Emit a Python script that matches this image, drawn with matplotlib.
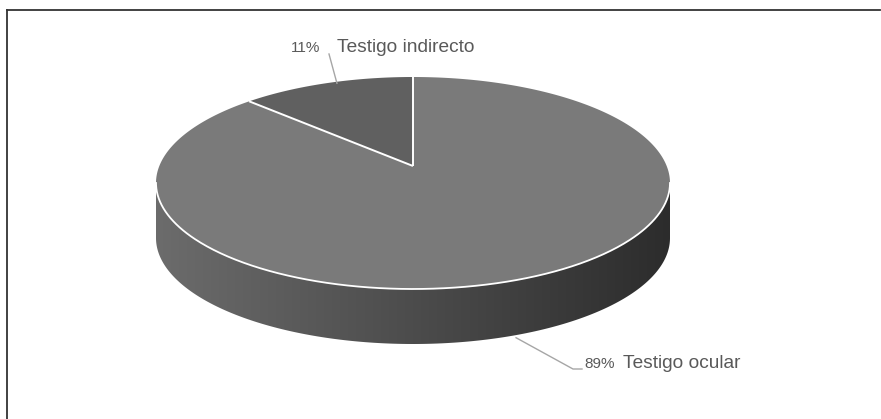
import numpy as np
import matplotlib
matplotlib.use("Agg")
import matplotlib.pyplot as plt
from matplotlib.patches import Polygon

# ---- data ----
labels = ["Testigo ocular", "Testigo indirecto"]
values = [89, 11]
top_colors = ["#7a7a7a", "#606060"]

plt.rcParams['font.family'] = ['Liberation Sans', 'DejaVu Sans']

W, H = 881, 419
fig = plt.figure(figsize=(W / 100, H / 100), dpi=100)
ax = fig.add_axes([0, 0, 1, 1])
ax.set_xlim(0, W)
ax.set_ylim(H, 0)
ax.axis("off")

# geometry (pixels)
cx, cy, a, b, depth = 413, 183, 257, 106, 55
apex = (cx, cy - 17)

def ell(theta_deg, dy=0):
    t = np.radians(theta_deg)
    return cx + a * np.sin(t), cy - b * np.cos(t) + dy

# ---- side wall with horizontal gradient ----
t = np.linspace(90, 270, 300)
top_arc = np.array([ell(th) for th in t])
bot_arc = np.array([ell(th, depth) for th in t[::-1]])
side = np.vstack([top_arc, bot_arc])
side_poly = Polygon(side, closed=True, facecolor="none", edgecolor="none")
ax.add_patch(side_poly)
grad = np.linspace(0, 1, 512)
left_c = np.array([0x6c, 0x6c, 0x6c]) / 255
right_c = np.array([0x2c, 0x2c, 0x2c]) / 255
img = (left_c[None, :] * (1 - grad[:, None]) + right_c[None, :] * grad[:, None])
img = img[None, :, :]
im = ax.imshow(img, extent=(cx - a - 2, cx + a + 2, cy + b + depth + 2, cy - 2),
               interpolation="bilinear", zorder=1)
im.set_clip_path(side_poly)
ax.set_aspect("auto")
ax.set_xlim(0, W)
ax.set_ylim(H, 0)

# ---- top face slices (start at 12 o'clock, clockwise) ----
total = sum(values)
start = 0.0
mids = []
for v, col in zip(values, top_colors):
    span = 360.0 * v / total
    ts = np.linspace(start, start + span, 400)
    pts = [apex] + [ell(th) for th in ts]
    ax.add_patch(Polygon(pts, closed=True, facecolor=col, edgecolor="none", zorder=2))
    mids.append(start + span / 2)
    start += span

# wedge boundary lines
start = 0.0
for v in values:
    x, y = ell(start)
    ax.plot([apex[0], x], [apex[1], y], color="white", lw=1.4, zorder=3,
            solid_capstyle="butt")
    start += 360.0 * v / total

# white rim between top and side
ax.plot(top_arc[:, 0], top_arc[:, 1], color="white", lw=1.3, zorder=3)

# ---- labels and leader lines ----
txt_col = "#595959"
line_col = "#a6a6a6"
pcts = [f"{v / total * 100:.0f}%" for v in values]

# Testigo ocular (bottom right)
mx, my = ell(mids[0], depth)
ax.plot([mx + 16, 573, 582], [my, 369, 369], color=line_col, lw=1.0, zorder=4)
ax.text(584, 364, pcts[0], fontsize=11, color=txt_col, ha="left", va="center")
ax.text(623, 363, labels[0], fontsize=13.8, color=txt_col, ha="left", va="center")

# Testigo indirecto (top)
mx, my = ell(mids[1])
ax.plot([mx + 11, 329], [my, 54], color=line_col, lw=1.0, zorder=4)
ax.text(291, 48, pcts[1], fontsize=11, color=txt_col, ha="left", va="center")
ax.text(337, 47, labels[1], fontsize=13.8, color=txt_col, ha="left", va="center")

# ---- border (top and left) ----
ax.plot([7, 880], [10, 10], color="#333333", lw=1.3, zorder=5)
ax.plot([7, 7], [10, 419], color="#333333", lw=1.3, zorder=5)

fig.savefig("out.png", dpi=100)
